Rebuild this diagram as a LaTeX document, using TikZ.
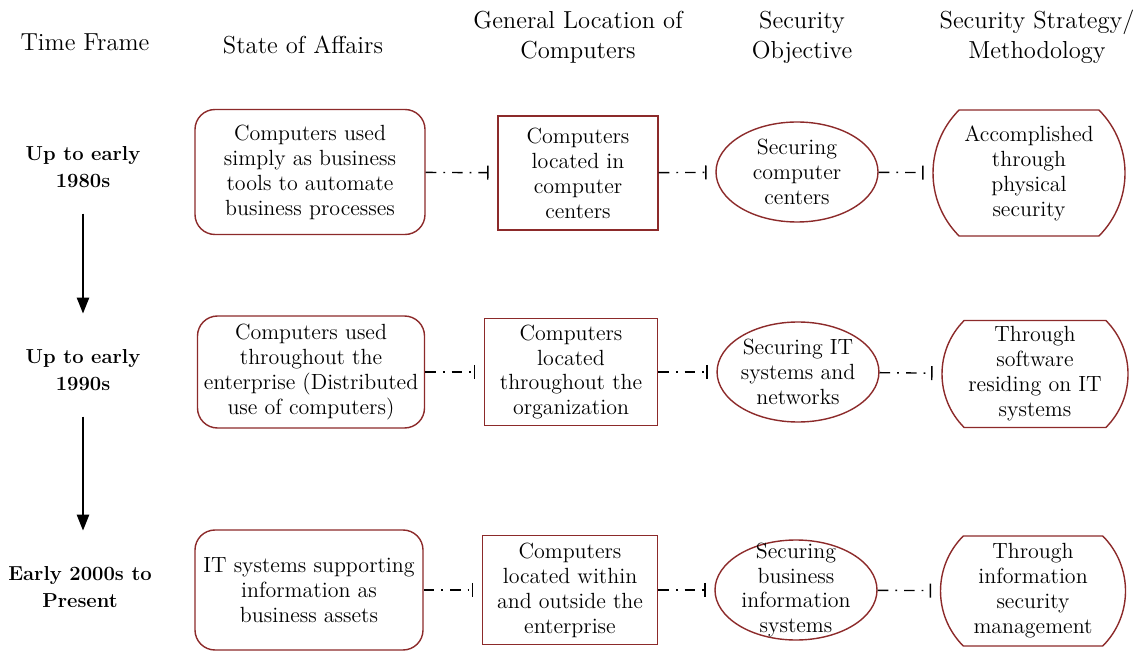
\documentclass[tikz,border=0pt]{standalone}
\usetikzlibrary{shapes.geometric,shapes.misc,arrows.meta}
\definecolor{boxred}{RGB}{140,42,42}
\begin{document}
\begin{tikzpicture}[
    every node/.style={align=center, font=\fontsize{12.5}{14.2}\selectfont},
    head/.style={font=\fontsize{14}{17}\selectfont},
    period/.style={font=\fontsize{11.5}{15}\selectfont\bfseries},
    state/.style={draw=boxred, thick, rounded corners=0.4cm},
    place/.style={draw=boxred, thick},
    goal/.style={draw=boxred, thick, ellipse, inner sep=0pt},
    method/.style={draw=boxred, thick, rounded rectangle, rounded rectangle arc length=90, inner sep=0pt},
    link/.style={thick, dash pattern=on 6pt off 4pt on 1pt off 4pt, -{Bar[width=8pt]}, shorten >=5pt},
    timeline/.style={thick, -{Triangle[length=9pt,width=7pt]}}
]
    \useasboundingbox (0,0) rectangle (22.9,-13.06);
    % Headers
    \node[head] (h0) at (1.7,-0.84) {Time Frame};
    \node[head] (h1) at (6.06,-0.9) {State of Affairs};
    \node[head] (h2) at (11.56,-0.74) {General Location of\\Computers};
    \node[head] (h3) at (16.04,-0.74) {Security\\Objective};
    \node[head] (h4) at (20.74,-0.74) {Security Strategy/\\Methodology};
    % Time frames
    \node[period] (t1) at (1.66,-3.34) {Up to early\\1980s};
    \node[period] (t2) at (1.66,-7.4) {Up to early\\1990s};
    \node[period] (t3) at (1.6,-11.74) {Early 2000s to\\Present};
    \draw[timeline, shorten <=0.4cm, shorten >=0.6cm] (t1.south) -- (t1.south |- t2.north);
    \draw[timeline, shorten <=0.4cm, shorten >=0.6cm] (t2.south) -- (t2.south |- t3.north);
    % Row 1
    \node[state, minimum width=4.6cm, minimum height=2.5cm] (s1) at (6.2,-3.44) {Computers used\\simply as business\\tools to automate\\business processes};
    \node[place, minimum width=3.2cm, minimum height=2.28cm] (l1) at (11.56,-3.46) {Computers\\located in\\computer\\centers};
    \node[goal, minimum width=3.24cm, minimum height=2.0cm] (o1) at (15.94,-3.44) {Securing\\computer\\centers};
    \node[method, minimum width=3.84cm, minimum height=2.52cm] (m1) at (20.58,-3.46) {Accomplished\\through\\physical\\security};
    % Row 2
    \node[state, minimum width=4.54cm, minimum height=2.24cm] (s2) at (6.22,-7.44) {Computers used\\throughout the\\enterprise (Distributed\\use of computers)};
    \node[place, minimum width=3.46cm, minimum height=2.1cm] (l2) at (11.42,-7.44) {Computers\\located\\throughout the\\organization};
    \node[goal, minimum width=3.14cm, minimum height=2.0cm] (o2) at (15.96,-7.44) {Securing IT\\systems and\\networks};
    \node[method, minimum width=3.72cm, minimum height=2.14cm] (m2) at (20.7,-7.48) {Through\\software\\residing on IT\\systems};
    % Row 3
    \node[state, minimum width=4.56cm, minimum height=2.4cm] (s3) at (6.18,-11.8) {IT systems supporting\\information as\\business assets};
    \node[place, minimum width=3.5cm, minimum height=2.18cm] (l3) at (11.4,-11.8) {Computers\\located within\\and outside the\\enterprise};
    \node[goal, inner ysep=-8.5pt, minimum width=3.24cm, minimum height=2.0cm] (o3) at (15.92,-11.8) {Securing\\business\\information\\systems};
    \node[method, minimum width=3.7cm, minimum height=2.2cm] (m3) at (20.66,-11.82) {Through\\information\\security\\management};
    % Links
    \foreach \r in {1,2,3} {
        \draw[link] (s\r) -- (l\r);
        \draw[link] (l\r) -- (o\r);
        \draw[link] (o\r) -- (m\r);
    }
\end{tikzpicture}
\end{document}
